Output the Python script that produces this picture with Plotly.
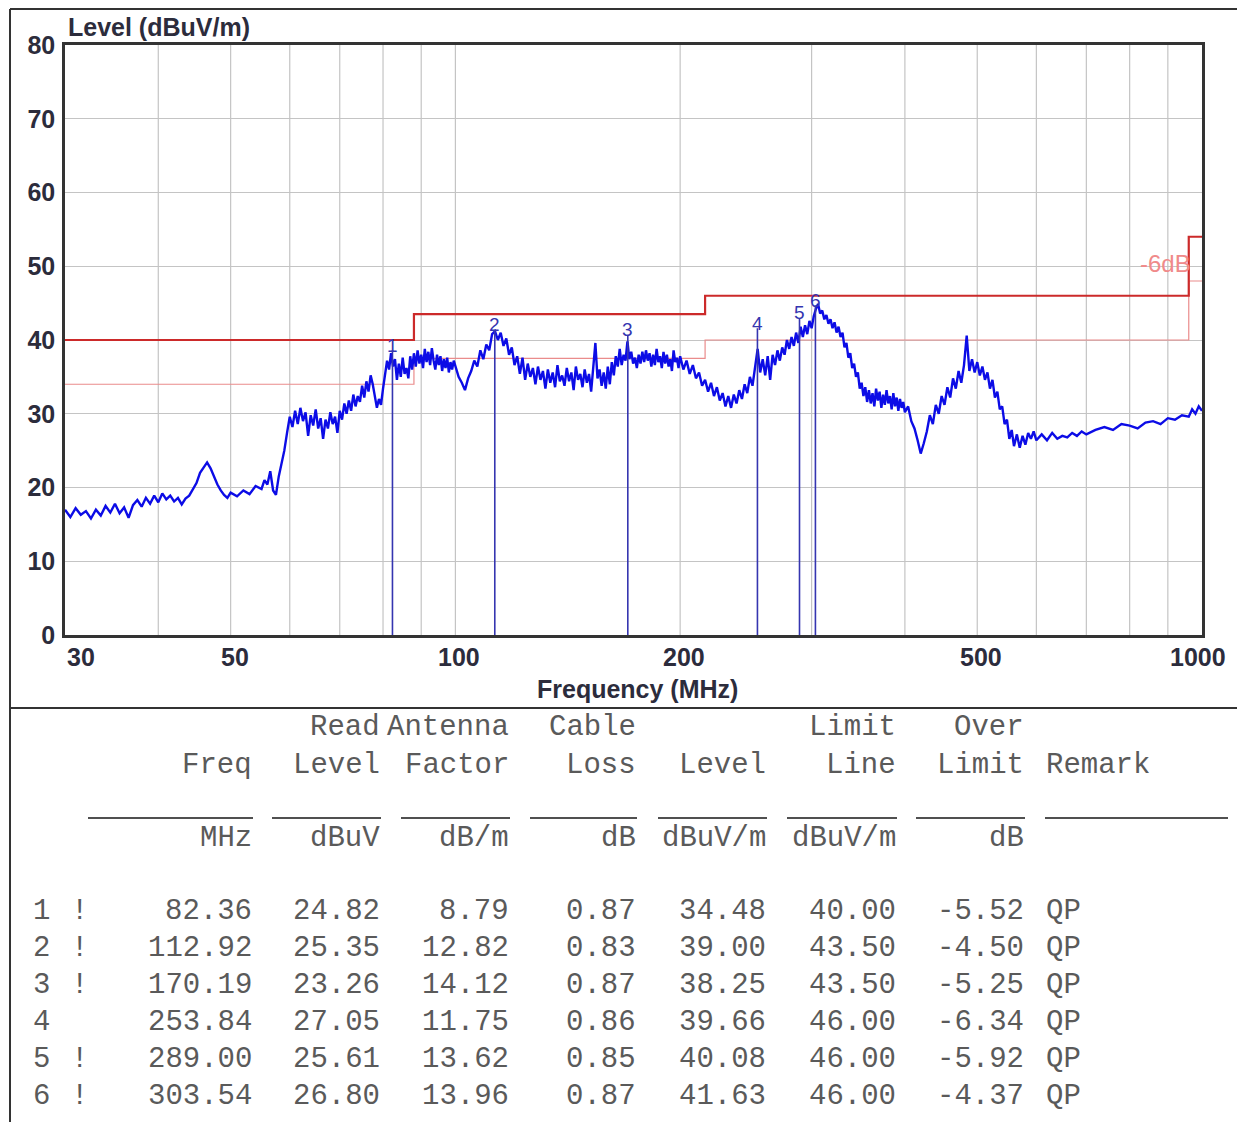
import plotly.graph_objects as go
import math

# ---------------- data ----------------
trace_points = [
    (30, 17.0), (30.5, 16.0), (31, 17.2), (31.5, 16.3), (32, 16.8), (32.5, 15.8), (33, 17.0), (33.5, 16.2),
    (34, 17.5), (34.5, 16.6), (35, 17.8), (35.5, 16.5), (36, 17.3), (36.5, 15.9), (37, 17.6), (37.5, 18.3),
    (38, 17.4), (38.5, 18.6), (39, 17.8), (39.5, 18.9), (40, 18.0), (40.5, 19.2), (41, 18.4), (41.5, 18.9),
    (42, 18.1), (42.5, 18.6), (43, 17.7), (43.5, 18.5), (44, 18.9), (44.5, 19.8), (45, 20.6), (45.5, 22.0),
    (46, 22.8), (46.5, 23.4), (47, 22.6), (47.5, 21.4), (48, 20.4), (48.5, 19.6), (49, 19.0), (49.5, 18.6),
    (50, 19.3), (51, 18.8), (52, 19.6), (53, 19.1), (54, 20.2), (55, 19.8), (55.5, 21.0), (56, 20.4),
    (56.5, 22.2), (57, 19.6), (57.5, 19.0),
    (58.0, 21.5), (58.5, 23.2), (59.0, 25.0), (59.5, 27.4), (60.0, 29.6), (60.5, 28.2), (61.0, 30.4), (61.5, 28.6),
    (62.0, 30.8), (62.5, 29.0), (63.0, 30.2), (63.5, 27.0), (64.0, 29.8), (64.5, 28.4), (65.0, 30.6), (65.5, 28.0),
    (66.0, 29.4), (66.5, 26.6), (67.0, 29.2), (67.5, 28.0), (68.0, 30.2), (68.5, 28.6), (69.0, 29.6), (69.5, 27.4),
    (70.0, 30.4), (70.5, 29.2), (71.0, 31.4), (71.5, 30.0), (72.0, 31.8), (72.5, 30.4), (73.0, 32.6), (73.5, 31.0),
    (74.0, 32.4), (74.5, 31.6), (75.0, 33.8), (75.5, 32.2), (76.0, 34.4), (76.5, 33.0), (77.0, 35.2), (77.5, 34.0),
    (78.0, 32.2), (78.5, 30.8), (79.0, 32.0), (79.5, 31.2), (80.0, 33.4), (80.5, 35.6), (81.0, 37.2), (81.5, 36.0),
    (82.0, 38.2), (82.5, 36.4), (83.0, 37.4), (83.5, 34.6), (84.0, 36.8), (84.5, 35.0), (85.0, 37.6), (85.5, 35.4),
    (86.0, 36.2), (86.5, 34.8), (87.0, 37.8), (87.5, 36.0), (88.0, 38.2), (88.5, 36.4), (89.0, 38.6), (89.5, 36.8),
    (90.0, 38.0), (90.5, 36.2), (91.0, 38.8), (91.5, 37.0), (92.0, 38.4), (92.5, 36.6), (93.0, 38.9), (93.5, 37.2),
    (94.0, 36.0), (94.5, 38.0), (95.0, 36.6), (95.5, 37.8), (96.0, 35.8), (96.5, 37.4), (97.0, 36.2), (97.5, 37.6),
    (98.0, 35.6), (98.5, 37.0), (99.0, 36.0), (99.5, 37.2),
    (100, 36.4), (101, 35.0), (102, 34.2), (103, 33.2), (104, 34.8), (105, 35.8), (106, 37.2), (107, 36.4),
    (108, 38.6), (109, 37.4), (110, 39.4), (111, 38.6), (112, 40.8), (113, 41.2), (114, 40.0), (115, 41.0),
    (116, 39.2), (117, 40.2), (118, 38.0), (119, 39.0), (120, 36.6), (121, 37.8), (122, 35.4), (123, 37.6),
    (124, 34.6), (125, 36.8), (126, 35.0), (127, 36.2), (128, 34.0), (129, 36.4), (130, 34.6), (131, 35.8),
    (132, 33.4), (133, 36.0), (134, 34.2), (135, 35.6), (136, 33.6), (137, 36.6), (138, 34.4), (139, 35.2),
    (140, 33.8), (141, 36.2), (142, 34.4), (143, 35.6), (144, 33.2), (145, 36.4), (146, 34.6), (147, 35.4),
    (148, 33.6), (149, 36.0), (150, 34.2), (151, 35.4), (152, 33.0), (153, 36.2), (154, 39.6), (155, 34.8),
    (156, 36.0), (157, 33.8), (158, 35.6), (159, 33.4), (160, 36.4), (161, 34.0), (162, 37.0), (163, 35.2),
    (164, 37.8), (165, 36.4), (166, 38.8), (167, 36.6), (168, 38.0), (169, 37.2), (170, 39.8), (171, 37.4),
    (172, 38.4), (173, 36.8), (174, 37.6), (175, 36.2), (176, 38.0), (177, 36.8), (178, 38.4), (179, 37.0),
    (180, 38.6), (181, 37.2), (182, 38.2), (183, 36.4), (184, 38.0), (185, 36.6), (186, 38.8), (187, 37.0),
    (188, 37.8), (189, 36.2), (190, 38.4), (191, 36.8), (192, 38.0), (193, 36.4), (194, 37.4), (195, 35.8),
    (196, 38.6), (197, 37.0), (198, 37.6), (199, 36.2),
    (200, 37.8), (202, 36.0), (204, 37.2), (206, 35.4), (208, 36.6), (210, 34.8), (212, 35.6), (214, 33.8),
    (216, 34.6), (218, 33.0), (220, 34.2), (222, 32.4), (224, 33.6), (226, 31.8), (228, 32.8), (230, 31.0),
    (232, 32.4), (234, 30.8), (236, 32.6), (238, 31.4), (240, 33.2), (242, 32.0), (244, 34.0), (246, 32.8),
    (248, 35.0), (250, 33.8), (252, 36.2), (254, 38.8), (256, 35.6), (258, 37.4), (260, 35.2), (262, 37.8),
    (264, 34.6), (266, 38.0), (268, 36.6), (270, 38.6), (272, 37.2), (274, 39.0), (276, 38.0), (278, 40.0),
    (280, 38.8), (282, 40.4), (284, 39.2), (286, 41.0), (288, 39.6), (290, 41.8), (292, 40.4), (294, 42.0),
    (296, 40.8), (298, 42.6), (300, 41.6), (302, 43.2), (304, 44.2), (306, 44.9), (308, 43.6), (310, 44.0),
    (312, 42.8), (314, 43.4), (316, 42.2), (318, 42.8), (320, 41.6), (322, 42.4), (324, 41.0), (326, 41.8),
    (328, 40.4), (330, 41.0), (332, 39.0), (334, 39.6), (336, 37.6), (338, 38.2), (340, 36.2), (342, 36.8),
    (344, 35.0), (346, 35.6), (348, 33.4), (350, 34.2), (352, 32.4), (354, 33.6), (356, 31.6), (358, 33.2),
    (360, 31.4), (362, 32.8), (364, 31.0), (366, 33.4), (368, 31.8), (370, 33.0), (372, 30.8), (374, 32.6),
    (376, 31.2), (378, 33.2), (380, 31.4), (382, 32.4), (384, 30.6), (386, 32.8), (388, 31.0), (390, 32.2),
    (392, 30.4), (394, 32.0), (396, 30.8), (398, 31.6),
    (400, 30.2), (404, 31.0), (408, 29.0), (412, 28.0), (416, 26.4), (420, 24.6), (424, 26.0), (428, 27.6),
    (432, 29.8), (436, 28.6), (440, 31.2), (444, 30.0), (448, 32.4), (452, 31.2), (456, 33.6), (460, 32.2),
    (464, 34.8), (468, 33.4), (472, 35.8), (476, 34.2), (480, 36.6), (484, 40.6), (488, 35.8), (492, 37.4),
    (496, 35.6), (500, 37.0), (504, 35.2), (508, 36.4), (512, 34.6), (516, 35.6), (520, 33.4), (524, 34.6),
    (528, 32.2), (532, 33.0), (536, 30.6), (540, 31.0), (544, 28.6), (548, 29.2), (552, 26.6), (556, 27.8),
    (560, 25.6), (565, 27.2), (570, 25.4), (575, 27.0), (580, 25.8), (585, 27.4), (590, 26.6), (595, 27.6),
    (600, 26.4), (610, 27.2), (620, 26.4), (630, 27.4), (640, 26.6), (650, 27.0), (660, 26.8), (670, 27.4),
    (680, 27.0), (690, 27.6), (700, 27.2), (720, 27.8), (740, 28.2), (760, 27.8), (780, 28.6), (800, 28.4),
    (820, 28.0), (840, 28.8), (860, 29.0), (880, 28.6), (900, 29.4), (920, 29.2), (940, 29.8), (960, 29.6),
    (970, 30.6), (980, 30.0), (990, 31.0), (1000, 30.4),
]
trace_freq = [p[0] for p in trace_points]
trace_level = [p[1] for p in trace_points]

limit_freq = [30, 88, 88, 216, 216, 960, 960, 1000]
limit_level = [40, 40, 43.5, 43.5, 46, 46, 54, 54]
margin_level = [34, 34, 37.5, 37.5, 40, 40, 48, 48]

marker_no = ["1", "2", "3", "4", "5", "6"]
marker_flag = ["!", "!", "!", "", "!", "!"]
marker_freq = [82.36, 112.92, 170.19, 253.84, 289.00, 303.54]
marker_top = [38.6, 41.4, 40.7, 41.6, 43.0, 44.7]
read_level = [24.82, 25.35, 23.26, 27.05, 25.61, 26.80]
ant_factor = [8.79, 12.82, 14.12, 11.75, 13.62, 13.96]
cable_loss = [0.87, 0.83, 0.87, 0.86, 0.85, 0.87]
qp_level = [34.48, 39.00, 38.25, 39.66, 40.08, 41.63]
limit_line = [40.00, 43.50, 43.50, 46.00, 46.00, 46.00]
over_limit = [-5.52, -4.50, -5.25, -6.34, -5.92, -4.37]
remark = ["QP"] * 6

x_ticks = [30, 50, 100, 200, 500, 1000]
x_grid = [40, 50, 60, 70, 80, 90, 100, 200, 300, 400, 500, 600, 700, 800, 900]
y_ticks = [0, 10, 20, 30, 40, 50, 60, 70, 80]

# ---------------- layout geometry ----------------
OFF = 8  # page body margin
W, H = 1245 - OFF, 1122 - OFF
ML, MT = 65 - OFF, 45 - OFF
MR = W - (1202 - OFF)
MB = H - (635 - OFF)


def px(x):
    return (x - OFF - ML) / (W - ML - MR)


def py(y):
    return 1 - (y - OFF - MT) / (H - MT - MB)


fig = go.Figure()

gx, gy = [], []
for f in x_grid:
    gx += [f, f, None]
    gy += [0, 80, None]
fig.add_trace(go.Scatter(x=gx, y=gy, mode="lines", line=dict(color="#c4c4c4", width=1.2),
                         hoverinfo="skip", showlegend=False))

fig.add_trace(go.Scatter(x=limit_freq, y=margin_level, mode="lines",
                         line=dict(color="#ea8c8c", width=1.2), showlegend=False))
fig.add_trace(go.Scatter(x=limit_freq, y=limit_level, mode="lines",
                         line=dict(color="#cc2a2a", width=2.2), showlegend=False))

fig.add_trace(go.Scatter(x=trace_freq, y=trace_level, mode="lines",
                         line=dict(color="#0c0ce6", width=2.4), showlegend=False))

mx, my = [], []
for f, t in zip(marker_freq, marker_top):
    mx += [f, f, None]
    my += [0, t, None]
fig.add_trace(go.Scatter(x=mx, y=my, mode="lines", line=dict(color="#3535b0", width=1.6),
                         showlegend=False))

annotations = []
for n, f, t in zip(marker_no, marker_freq, marker_top):
    annotations.append(dict(x=math.log10(f), y=t - 1.0, xref="x", yref="y", text=n, showarrow=False,
                            yanchor="bottom", font=dict(family="Liberation Sans", size=19, color="#3535b0")))

annotations.append(dict(x=math.log10(893), y=50.4, xref="x", yref="y", text="-6dB", showarrow=False,
                        font=dict(family="Liberation Sans", size=24, color="#f08a8a")))

TF = "Liberation Sans"
TCOL = "#2c2c3c"
annotations.append(dict(x=px(66), y=py(27), xref="paper", yref="paper", text="<b>Level (dBuV/m)</b>",
                        showarrow=False, xanchor="left", yanchor="middle",
                        font=dict(family=TF, size=25, color=TCOL)))
annotations.append(dict(x=px(637), y=py(689), xref="paper", yref="paper", text="<b>Frequency (MHz)</b>",
                        showarrow=False, xanchor="center", yanchor="middle",
                        font=dict(family=TF, size=25, color=TCOL)))

for f in x_ticks:
    anchor = "left" if f == 30 else "center"
    shift = {30: 0, 1000: -4}.get(f, 4)
    annotations.append(dict(x=math.log10(f), y=py(657), xref="x", yref="paper", text=f"<b>{f}</b>",
                            showarrow=False, xanchor=anchor, yanchor="middle", xshift=shift,
                            font=dict(family=TF, size=25, color=TCOL)))

# ---------------- table ----------------
MONO = "Liberation Mono, DejaVu Sans Mono, monospace"
TC = "#5a5a5a"
TS = 29


def cell(xr, y, text, anchor="right"):
    annotations.append(dict(x=px(xr), y=py(y), xref="paper", yref="paper", text=text.replace(" ", "\u00a0"),
                            showarrow=False, xanchor=anchor, yanchor="middle",
                            font=dict(family=MONO, size=TS, color=TC)))


col_right = [254, 382, 511, 638, 768, 898, 1026]
cell(382, 727, "Read")
cell(511, 727, "Antenna")
cell(638, 727, "Cable")
cell(898, 727, "Limit")
cell(1026, 727, "Over")
for xr, t in zip(col_right, ["Freq", "Level", "Factor", "Loss", "Level", "Line", "Limit"]):
    cell(xr, 765, t)
cell(1044, 765, "Remark", "left")
for xr, t in zip(col_right, ["MHz", "dBuV", "dB/m", "dB", "dBuV/m", "dBuV/m", "dB"]):
    cell(xr, 838, t)

row_y = [911, 948, 985, 1022, 1059, 1096]
for i in range(6):
    y = row_y[i]
    cell(31, y, marker_no[i], "left")
    cell(69, y, marker_flag[i], "left")
    vals = [marker_freq[i], read_level[i], ant_factor[i], cable_loss[i], qp_level[i], limit_line[i], over_limit[i]]
    for xr, v in zip(col_right, vals):
        cell(xr, y, f"{v:.2f}")
    cell(1044, y, remark[i], "left")

shapes = []
for x0, x1 in [(88, 253), (272, 381), (401, 510), (530, 637), (658, 767), (787, 897), (916, 1025), (1045, 1228)]:
    shapes.append(dict(type="line", xref="paper", yref="paper", x0=px(x0), x1=px(x1), y0=py(818), y1=py(818),
                       line=dict(color="#505050", width=2)))
frame = [(10, 9, 1245, 9), (10, 9, 10, 1122), (10, 708, 1245, 708)]
for x0, y0, x1, y1 in frame:
    shapes.append(dict(type="line", xref="paper", yref="paper", x0=px(x0), x1=px(x1), y0=py(y0), y1=py(y1),
                       line=dict(color="#333333", width=2)))

fig.update_layout(
    width=W, height=H,
    margin=dict(l=ML, r=MR, t=MT, b=MB),
    paper_bgcolor="white", plot_bgcolor="white",
    showlegend=False,
    annotations=annotations,
    shapes=shapes,
    xaxis=dict(type="log", range=[math.log10(30), math.log10(1000)], showgrid=False,
               showticklabels=False, ticks="", showline=True, linecolor="#333333", linewidth=2.5,
               mirror=True, zeroline=False),
    yaxis=dict(range=[0, 80], tickvals=y_ticks, ticktext=[f"<b>{v}</b>" for v in y_ticks],
               showgrid=True, gridcolor="#c4c4c4", gridwidth=1.2, ticks="", ticklabelstandoff=2,
               tickfont=dict(family=TF, size=25, color=TCOL),
               showline=True, linecolor="#333333", linewidth=2.5, mirror=True, zeroline=False),
)

fig.write_html("out.html")
